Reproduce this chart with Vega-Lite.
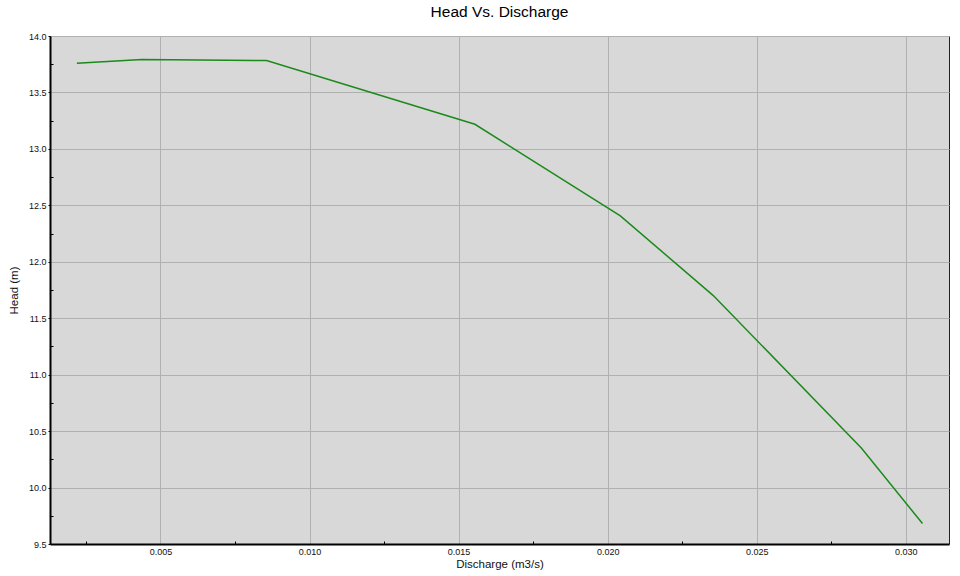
{
  "$schema": "https://vega.github.io/schema/vega-lite/v6.json",
  "autosize": "none",
  "width": 899,
  "height": 508,
  "padding": {"left": 50, "top": 36, "right": 11, "bottom": 32},
  "background": "white",
  "title": {"text": "Head Vs. Discharge", "font": "Liberation Sans", "fontSize": 15.5, "fontWeight": "normal", "color": "#000000", "offset": 12, "anchor": "middle"},
  "config": {
    "view": {"fill": "#d8d8d8", "stroke": "#222222", "strokeWidth": 1},
    "axis": {"labelFont": "Liberation Sans", "titleFont": "Liberation Sans", "labelFontSize": 9, "titleFontSize": 11.5, "titleFontWeight": "normal", "labelColor": "#111111", "titleColor": "#111111"}
  },
  "data": {"values": [
    {"q": 0.002196, "h": 13.758},
    {"q": 0.004376, "h": 13.791},
    {"q": 0.008558, "h": 13.782},
    {"q": 0.015547, "h": 13.218},
    {"q": 0.020426, "h": 12.406},
    {"q": 0.023535, "h": 11.703},
    {"q": 0.02851, "h": 10.351},
    {"q": 0.03056, "h": 9.681}
  ]},
  "layer": [
    {
      "mark": {"type": "line", "color": "#1b8a1b", "strokeWidth": 1.5},
      "encoding": {
        "x": {"field": "q", "type": "quantitative", "scale": {"domain": [0.001294, 0.03145], "nice": false, "zero": false},
          "axis": {"title": "Discharge (m3/s)", "values": [0.005, 0.01, 0.015, 0.02, 0.025, 0.03], "format": ".3f", "grid": true, "gridColor": "#b0b0b0", "gridWidth": 1, "domainColor": "#000000", "domainWidth": 2, "tickColor": "#000000", "tickSize": 0, "labelPadding": 3, "titlePadding": 2}},
        "y": {"field": "h", "type": "quantitative", "scale": {"domain": [9.5, 14.0], "nice": false, "zero": false},
          "axis": {"title": "Head (m)", "values": [9.5, 10, 10.5, 11, 11.5, 12, 12.5, 13, 13.5, 14], "format": ".1f", "grid": true, "gridColor": "#b0b0b0", "gridWidth": 1, "domainColor": "#000000", "domainWidth": 2, "tickColor": "#000000", "tickSize": 2, "labelPadding": 2, "titlePadding": 9}}
      }
    },
    {
      "mark": {"type": "point", "opacity": 0},
      "encoding": {
        "x": {"field": "q", "type": "quantitative",
          "axis": {"orient": "bottom", "title": null, "labels": false, "grid": false, "domain": false, "values": [0.0025, 0.0075, 0.0125, 0.0175, 0.0225, 0.0275], "tickSize": -3, "tickColor": "#000000"}},
        "y": {"field": "h", "type": "quantitative",
          "axis": {"orient": "left", "title": null, "labels": false, "grid": false, "domain": false, "values": [9.75, 10.25, 10.75, 11.25, 11.75, 12.25, 12.75, 13.25, 13.75], "tickSize": -3, "tickColor": "#000000"}}
      }
    }
  ],
  "resolve": {"axis": {"x": "independent", "y": "independent"}}
}
